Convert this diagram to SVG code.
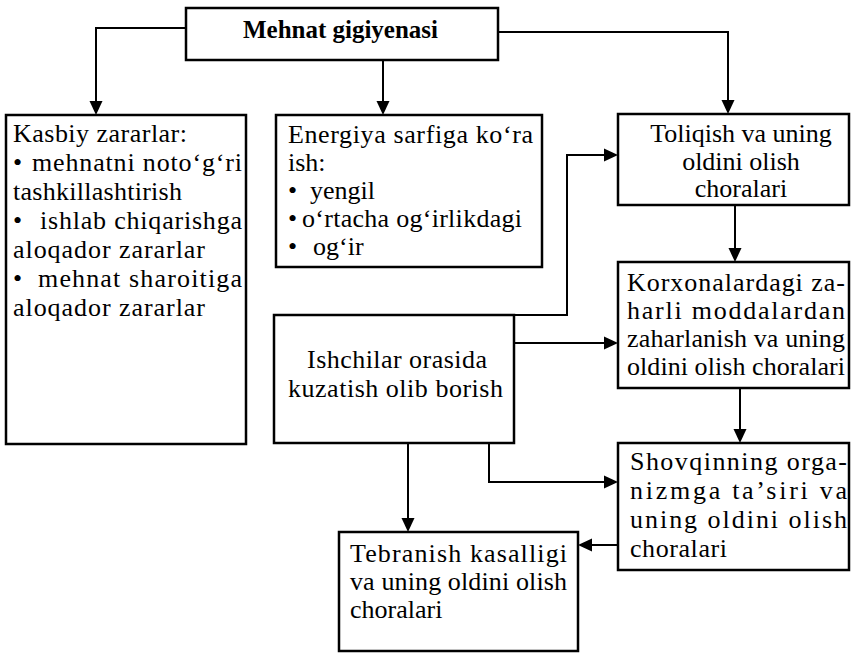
<svg xmlns="http://www.w3.org/2000/svg" width="855" height="656" viewBox="0 0 855 656">
<style>
.box{fill:#fff;stroke:#000;stroke-width:2.5}
.t{font-family:'Liberation Serif','Times New Roman',serif;font-size:26px;fill:#000}
.h{font-family:'Liberation Serif','Times New Roman',serif;font-size:25px;font-weight:bold;fill:#000}
.c{fill:none;stroke:#000;stroke-width:2}
</style>
<defs>
<marker id="arr" viewBox="0 0 14 14" refX="2" refY="7" markerWidth="14" markerHeight="14" markerUnits="userSpaceOnUse" orient="auto">
<path d="M0,0.5 L14,7 L0,13.5 z" fill="#000"/>
</marker>
</defs>
<rect width="855" height="656" fill="#fff"/>
<g id="connectors">
<path class="c" d="M186,28 H96 V103" marker-end="url(#arr)"/>
<path class="c" d="M383,60 V103" marker-end="url(#arr)"/>
<path class="c" d="M498,32 H728 V102" marker-end="url(#arr)"/>
<path class="c" d="M514,315 H567 V155 H606" marker-end="url(#arr)"/>
<path class="c" d="M514,343 H606" marker-end="url(#arr)"/>
<path class="c" d="M735,205 V250" marker-end="url(#arr)"/>
<path class="c" d="M740,388 V431" marker-end="url(#arr)"/>
<path class="c" d="M489,443 V482 H606" marker-end="url(#arr)"/>
<path class="c" d="M408,443 V520" marker-end="url(#arr)"/>
<path class="c" d="M618,545 H590" marker-end="url(#arr)"/>
</g>
<g id="header">
<rect class="box" x="186" y="8" width="312" height="52"/>
<text class="h" x="243" y="38" textLength="195" lengthAdjust="spacingAndGlyphs">Mehnat gigiyenasi</text>
</g>
<g id="kasbiy">
<rect class="box" x="6" y="115" width="240" height="329"/>
<text class="t" x="13" y="142" textLength="174" lengthAdjust="spacing">Kasbiy zararlar:</text>
<text class="t" x="13" y="171">•</text>
<text class="t" x="32" y="171" textLength="210" lengthAdjust="spacing">mehnatni noto‘g‘ri</text>
<text class="t" x="13" y="200" textLength="169" lengthAdjust="spacing">tashkillashtirish</text>
<text class="t" x="13" y="229">•</text>
<text class="t" x="40" y="229" textLength="202" lengthAdjust="spacing">ishlab chiqarishga</text>
<text class="t" x="13" y="258" textLength="192" lengthAdjust="spacing">aloqador zararlar</text>
<text class="t" x="13" y="287">•</text>
<text class="t" x="38" y="287" textLength="204" lengthAdjust="spacing">mehnat sharoitiga</text>
<text class="t" x="13" y="316" textLength="192" lengthAdjust="spacing">aloqador zararlar</text>
</g>
<g id="energiya">
<rect class="box" x="276" y="115" width="266" height="152"/>
<text class="t" x="288" y="143" textLength="245" lengthAdjust="spacing">Energiya sarfiga ko‘ra</text>
<text class="t" x="288" y="171">ish:</text>
<text class="t" x="288" y="199">•</text>
<text class="t" x="310" y="199">yengil</text>
<text class="t" x="288" y="227">•</text>
<text class="t" x="302" y="227" textLength="220" lengthAdjust="spacing">o‘rtacha og‘irlikdagi</text>
<text class="t" x="288" y="255">•</text>
<text class="t" x="313" y="255">og‘ir</text>
</g>
<g id="toliqish">
<rect class="box" x="618" y="114" width="231" height="91"/>
<text class="t" x="741" y="142" text-anchor="middle">Toliqish va uning</text>
<text class="t" x="741" y="170" text-anchor="middle">oldini olish</text>
<text class="t" x="741" y="197" text-anchor="middle">choralari</text>
</g>
<g id="korxona">
<rect class="box" x="618" y="262" width="231" height="126"/>
<text class="t" x="627" y="291" textLength="218" lengthAdjust="spacing">Korxonalardagi za-</text>
<text class="t" x="627" y="319" textLength="218" lengthAdjust="spacing">harli moddalardan</text>
<text class="t" x="627" y="347" textLength="218" lengthAdjust="spacing">zaharlanish va uning</text>
<text class="t" x="627" y="375" textLength="218" lengthAdjust="spacing">oldini olish choralari</text>
</g>
<g id="ishchilar">
<rect class="box" x="274" y="315" width="240" height="128"/>
<text class="t" x="307" y="368" textLength="180" lengthAdjust="spacing">Ishchilar orasida</text>
<text class="t" x="288" y="397" textLength="215" lengthAdjust="spacing">kuzatish olib borish</text>
</g>
<g id="shovqin">
<rect class="box" x="618" y="443" width="231" height="127"/>
<text class="t" x="630" y="470" textLength="217" lengthAdjust="spacing">Shovqinning orga-</text>
<text class="t" x="630" y="499" textLength="217" lengthAdjust="spacing">nizmga ta’siri va</text>
<text class="t" x="630" y="528" textLength="217" lengthAdjust="spacing">uning oldini olish</text>
<text class="t" x="630" y="557" textLength="97" lengthAdjust="spacing">choralari</text>
</g>
<g id="tebranish">
<rect class="box" x="339" y="532" width="239" height="119"/>
<text class="t" x="350" y="562" textLength="217" lengthAdjust="spacing">Tebranish kasalligi</text>
<text class="t" x="350" y="590" textLength="217" lengthAdjust="spacing">va uning oldini olish</text>
<text class="t" x="350" y="618">choralari</text>
</g>
</svg>
